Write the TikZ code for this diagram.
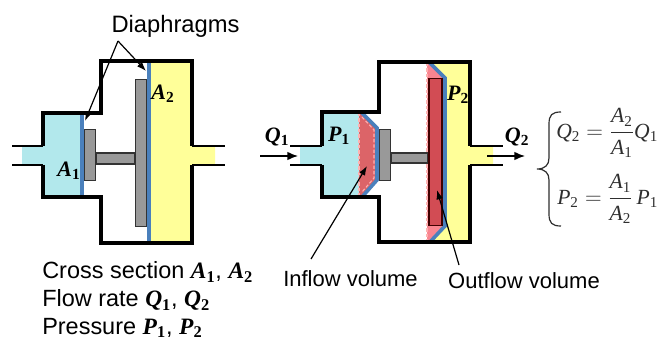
\documentclass[tikz,border=0pt]{standalone}
\usepackage{fontspec}
\setmainfont{Liberation Sans}
\newfontfamily\symfont{Liberation Serif}
\usepackage{xcolor}
\usetikzlibrary{arrows.meta,positioning}
\definecolor{chamberblue}{HTML}{B2E8EC}
\definecolor{chamberyellow}{HTML}{FFFF99}
\definecolor{diablue}{HTML}{4A80BC}
\definecolor{plategray}{HTML}{999999}
\definecolor{volred}{HTML}{DC6468}
\definecolor{volpink}{HTML}{F98590}
\definecolor{platered}{HTML}{D24C54}
\definecolor{eqgray}{HTML}{2E2E2E}
\newcommand{\sym}[2]{{\symfont\textbf{\textit{#1}}\textsubscript{\textbf{#2}}}}
\newcommand{\eqs}[2]{\mbox{\symfont\textit{#1}\textsubscript{#2}}}

\begin{document}
\begin{tikzpicture}[
  x=0.75pt, y=-0.75pt,
  wall/.style={draw=black, line width=2.3pt},
  pipe/.style={draw=black, line width=1.9pt},
  plate/.style={draw=black!80, line width=1.1pt, fill=plategray},
  dia/.style={draw=diablue, line width=2.7pt},
  dashline/.style={draw=white!70!red, line width=0.8pt, dash pattern=on 2.5pt off 1.5pt},
  flow/.style={draw=black, line width=1.1pt, -{Latex[length=8pt,width=6.5pt]}},
  lead/.style={draw=black, line width=0.9pt, -{Latex[length=7pt,width=5pt]}},
  txt/.style={font=\fontsize{16.5}{20}\selectfont, inner sep=0pt},
  legend/.style={font=\fontsize{17.6}{20}\selectfont, inner sep=0pt, anchor=west},
  lbl/.style={font=\fontsize{16.5}{20}\selectfont, inner sep=0pt},
  eqn/.style={font=\fontsize{16.2}{20}\selectfont, inner sep=0pt, text=eqgray}
]
\useasboundingbox (0,0) rectangle (660,342);

% left device
\fill[chamberblue] (22,146) -- (43,146) -- (43,113) -- (83,113) -- (83,197) -- (43,197) -- (43,165) -- (22,165) -- cycle;
\fill[chamberyellow] (149,61) -- (192,61) -- (192,146) -- (215,146) -- (215,165) -- (192,165) -- (192,243) -- (149,243) -- cycle;
\draw[dia] (82,113) -- (82,197);
\draw[dia] (149,61) -- (149,243);
\node[plate, minimum width=8pt, minimum height=38pt, inner sep=0pt] (smallplate) at (90,155) {};
\node[plate, minimum width=8pt, minimum height=110pt, inner sep=0pt] (bigplate) at (141,153) {};
\draw[plate] (smallplate.east |- 0,153) rectangle (bigplate.west |- 0,164);
\draw[wall] (43,146) -- (43,113) -- (101,113) -- (101,61) -- (192,61) -- (192,146);
\draw[wall] (43,165) -- (43,197) -- (101,197) -- (101,243) -- (192,243) -- (192,165);
\draw[pipe] (12,146) -- (43,146);
\draw[pipe] (12,165) -- (43,165);
\draw[pipe] (192,146) -- (225,146);
\draw[pipe] (192,165) -- (225,165);
\node[lbl] (aone) at (69,171) {\sym{A}{1}};
\node[lbl] (atwo) at (163,94) {\sym{A}{2}};
\node[inner sep=0pt, font=\fontsize{17.8}{20}\selectfont] (diaphragms) at (175.5,26) {Diaphragms};
\coordinate (fork) at (118,41);
\coordinate (diaone) at (85,121);
\coordinate (diatwo) at (146,71);
\draw[lead] (fork) -- (diaone);
\draw[lead] (fork) -- (diatwo);

% right device
\fill[chamberblue] (300,146) -- (322,146) -- (322,112) -- (360,112) -- (360,197) -- (322,197) -- (322,165) -- (300,165) -- cycle;
\fill[chamberyellow] (430,62) -- (470,62) -- (470,146) -- (493,146) -- (493,165) -- (470,165) -- (470,242) -- (430,242) -- cycle;
\fill[volred] (359,113) -- (362,113) -- (377,128) -- (377,180) -- (362,197) -- (359,197) -- cycle;
\fill[volpink] (427,62) -- (429,62) -- (445,78) -- (445,226) -- (430,242) -- (427,242) -- cycle;
\draw[dashline] (359,113) -- (359,197);
\draw[dashline] (427,63) -- (427,241);
\draw[dashline] (362,117) -- (374,130) -- (374,178) -- (362,192);
\draw[dia] (362,113) -- (377,128) -- (377,180) -- (362,197);
\draw[dia] (429,62) -- (445,78) -- (445,226) -- (430,242);
\node[plate, minimum width=8pt, minimum height=38pt, inner sep=0pt] (smallplatetwo) at (385,155) {};
\draw[plate] (smallplatetwo.east |- 0,153) rectangle (428,163);
\node[draw=black!75!red, line width=1.1pt, fill=platered, minimum width=9.5pt, minimum height=110pt, inner sep=0pt] (redplate) at (435.5,152) {};
\draw[wall] (322,146) -- (322,112) -- (379,112) -- (379,62) -- (470,62) -- (470,146);
\draw[wall] (322,165) -- (322,197) -- (379,197) -- (379,242) -- (470,242) -- (470,165);
\draw[pipe] (290,146) -- (322,146);
\draw[pipe] (290,165) -- (322,165);
\draw[pipe] (470,146) -- (503,146);
\draw[pipe] (470,165) -- (503,165);
\node[lbl] (pone) at (339,136) {\sym{P}{1}};
\node[lbl] (ptwo) at (458,95) {\sym{P}{2}};
\node[lbl] (qone) at (277,137) {\sym{Q}{1}};
\node[lbl] (qtwo) at (517,137) {\sym{Q}{2}};
\coordinate (qinstart) at (260,156);
\coordinate (qinend) at (298,156);
\coordinate (qoutstart) at (487,156);
\coordinate (qoutend) at (525,156);
\draw[flow] (qinstart) -- (qinend);
\draw[flow] (qoutstart) -- (qoutend);
\node[txt] (inflow) at (350.5,279) {Inflow volume};
\node[txt] (outflow) at (524,281) {Outflow volume};
\coordinate (inflowstart) at (311,259);
\coordinate (inflowend) at (367,166);
\coordinate (outflowstart) at (459,265);
\coordinate (outflowend) at (437,190);
\draw[lead] (inflowstart) -- (inflowend);
\draw[lead] (outflowstart) -- (outflowend);

% equations
\coordinate (bracetop) at (561,112);
\coordinate (bracetip) at (537,169);
\coordinate (bracebot) at (561,226);
\draw[eqgray, line width=0.9pt] (bracetop) .. controls (552,112) and (549,115) .. (549,124) -- (549,158)
  .. controls (549,165) and (545,169) .. (bracetip)
  .. controls (545,169) and (549,173) .. (549,180) -- (549,214)
  .. controls (549,223) and (552,226) .. (bracebot);
\node[eqn, anchor=west] (eqq) at (556,133) {$\eqs{Q}{2} = {\displaystyle\frac{\eqs{A}{2}}{\eqs{A}{1}}}\eqs{Q}{1}$};
\node[eqn, anchor=west] (eqp) at (557,199) {$\eqs{P}{2} = {\displaystyle\frac{\eqs{A}{1}}{\eqs{A}{2}}}\,\eqs{P}{1}$};

% legend
\node[legend] (crosssec) at (42,272) {Cross section \sym{A}{1}, \sym{A}{2}};
\node[legend] (flowrate) at (42,300) {Flow rate \sym{Q}{1}, \sym{Q}{2}};
\node[legend] (pressure) at (42,328) {Pressure \sym{P}{1}, \sym{P}{2}};
\end{tikzpicture}
\end{document}
